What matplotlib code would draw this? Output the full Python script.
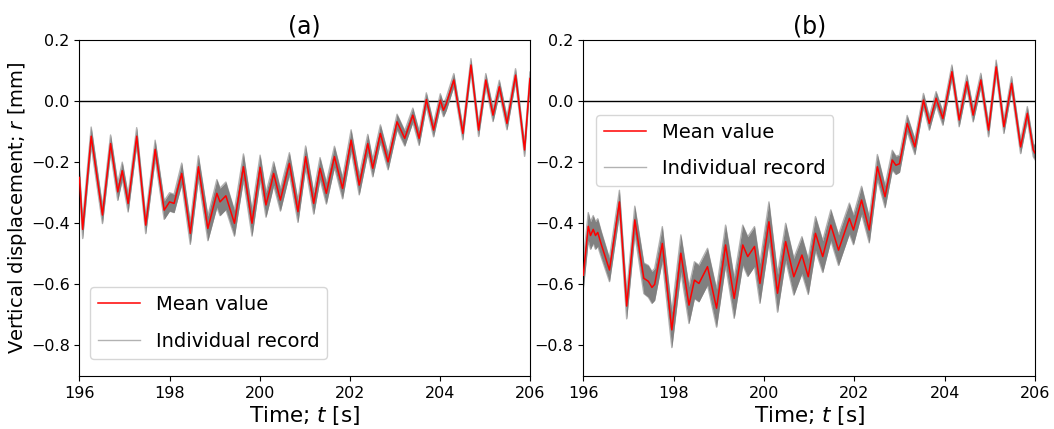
import numpy as np
import matplotlib
matplotlib.use('Agg')
import matplotlib.pyplot as plt

# (a) 平均値のピーク・谷 (time [s], r [mm]) と個別記録のばらつき幅
time_a = [196.00, 196.07, 196.26, 196.51, 196.69, 196.85, 196.95, 197.08, 197.27, 197.47,
          197.68, 197.88, 198.00, 198.10, 198.27, 198.46, 198.64, 198.85, 199.05, 199.12,
          199.25, 199.44, 199.64, 199.83, 200.01, 200.14, 200.26, 200.31, 200.46, 200.66,
          200.85, 201.02, 201.20, 201.34, 201.48, 201.66, 201.84, 202.03, 202.21, 202.40,
          202.51, 202.68, 202.85, 203.05, 203.22, 203.40, 203.54, 203.70, 203.86, 204.01,
          204.08, 204.14, 204.31, 204.51, 204.69, 204.86, 205.02, 205.18, 205.32, 205.49,
          205.68, 205.88, 206.00]
mean_a = [-0.250, -0.420, -0.115, -0.373, -0.139, -0.297, -0.228, -0.335, -0.115, -0.406,
          -0.158, -0.357, -0.330, -0.335, -0.237, -0.433, -0.215, -0.417, -0.302, -0.330,
          -0.310, -0.400, -0.215, -0.400, -0.217, -0.340, -0.270, -0.237, -0.324, -0.204,
          -0.362, -0.182, -0.335, -0.220, -0.302, -0.182, -0.286, -0.128, -0.275, -0.139,
          -0.220, -0.106, -0.199, -0.068, -0.122, -0.046, -0.122, 0.005, -0.095, 0.003,
          -0.030, -0.010, 0.069, -0.106, 0.118, -0.095, 0.069, -0.046, 0.047, -0.073,
          0.085, -0.160, 0.074]
spread_a = [0.028, 0.030, 0.030, 0.028, 0.028, 0.028, 0.028, 0.028, 0.028, 0.028,
            0.030, 0.030, 0.030, 0.030, 0.034, 0.036, 0.036, 0.040, 0.045, 0.045,
            0.045, 0.042, 0.042, 0.042, 0.040, 0.040, 0.038, 0.038, 0.036, 0.035,
            0.035, 0.035, 0.035, 0.035, 0.035, 0.034, 0.034, 0.034, 0.032, 0.030,
            0.028, 0.028, 0.026, 0.025, 0.025, 0.023, 0.023, 0.022, 0.022, 0.021,
            0.021, 0.021, 0.021, 0.021, 0.021, 0.021, 0.021, 0.021, 0.021, 0.021,
            0.021, 0.021, 0.021]

# (b)
time_b = [196.00, 196.11, 196.16, 196.22, 196.27, 196.32, 196.40, 196.58, 196.80, 196.96,
          197.14, 197.34, 197.44, 197.52, 197.58, 197.75, 197.96, 198.16, 198.34, 198.46,
          198.56, 198.75, 198.95, 199.15, 199.34, 199.53, 199.64, 199.79, 199.91, 200.11,
          200.30, 200.48, 200.66, 200.84, 200.98, 201.14, 201.30, 201.48, 201.65, 201.89,
          201.98, 202.16, 202.33, 202.51, 202.68, 202.84, 202.92, 203.00, 203.17, 203.34,
          203.53, 203.66, 203.81, 203.96, 204.16, 204.32, 204.49, 204.63, 204.80, 204.97,
          205.14, 205.31, 205.48, 205.68, 205.83, 205.96, 206.00]
mean_b = [-0.570, -0.410, -0.440, -0.420, -0.440, -0.430, -0.470, -0.553, -0.330, -0.671,
          -0.389, -0.580, -0.590, -0.610, -0.600, -0.466, -0.749, -0.498, -0.668, -0.586,
          -0.597, -0.542, -0.678, -0.471, -0.646, -0.471, -0.509, -0.476, -0.597, -0.395,
          -0.629, -0.460, -0.575, -0.504, -0.575, -0.433, -0.509, -0.406, -0.488, -0.384,
          -0.422, -0.324, -0.422, -0.215, -0.313, -0.193, -0.210, -0.205, -0.073, -0.150,
          0.003, -0.073, 0.009, -0.057, 0.096, -0.062, 0.063, -0.046, 0.069, -0.095,
          0.112, -0.084, 0.058, -0.150, -0.040, -0.160, -0.170]
spread_b = [0.045, 0.045, 0.045, 0.045, 0.045, 0.045, 0.042, 0.038, 0.038, 0.042,
            0.045, 0.050, 0.052, 0.052, 0.052, 0.055, 0.058, 0.060, 0.060, 0.060,
            0.060, 0.060, 0.062, 0.065, 0.065, 0.065, 0.065, 0.065, 0.065, 0.065,
            0.062, 0.060, 0.060, 0.060, 0.058, 0.055, 0.052, 0.050, 0.050, 0.050,
            0.048, 0.045, 0.042, 0.040, 0.036, 0.032, 0.030, 0.028, 0.026, 0.025,
            0.022, 0.022, 0.022, 0.022, 0.022, 0.022, 0.022, 0.022, 0.022, 0.022,
            0.022, 0.022, 0.022, 0.022, 0.022, 0.022, 0.022]

panels = [('(a)', time_a, mean_a, spread_a),
          ('(b)', time_b, mean_b, spread_b)]

fig = plt.figure(figsize=(10.54, 4.29), dpi=100)
ax_a = fig.add_axes([0.0754, 0.1235, 0.4274, 0.7833])
ax_b = fig.add_axes([0.5534, 0.1235, 0.4286, 0.7833])

for ax, (title, t, m, s) in zip([ax_a, ax_b], panels):
    t = np.array(t)
    m = np.array(m)
    s = np.array(s)
    ax.axhline(0.0, color='black', linewidth=1.0, zorder=1)
    ax.fill_between(t, m - s, m + s, color='#808080', linewidth=0, zorder=2)
    ax.plot(t, m + s, color='gray', alpha=0.6, linewidth=1.0, zorder=2, label='Individual record')
    ax.plot(t, m - s, color='gray', alpha=0.6, linewidth=1.0, zorder=2)
    ax.plot(t, m, color='red', linewidth=1.1, zorder=3, label='Mean value')
    ax.set_xlim(196, 206)
    ax.set_ylim(-0.9, 0.2)
    ax.set_xticks([196, 198, 200, 202, 204, 206])
    ax.set_yticks([0.2, 0.0, -0.2, -0.4, -0.6, -0.8])
    ax.tick_params(labelsize=11.5)
    ax.set_xlabel('Time; $t$ [s]', fontsize=15.5, labelpad=2)
    ax.set_title(title, fontsize=17, pad=5)

ax_a.set_ylabel('Vertical displacement; $r$ [mm]', fontsize=14, labelpad=1)

# 凡例の順番: Mean value -> Individual record
for ax, loc, anchor in [(ax_a, 'lower left', (0.023, 0.052)),
                        (ax_b, 'upper left', (0.028, 0.777))]:
    h, l = ax.get_legend_handles_labels()
    ax.legend([h[1], h[0]], [l[1], l[0]], loc=loc, bbox_to_anchor=anchor,
              borderaxespad=0, fontsize=14, handlelength=2.2, labelspacing=0.9)

plt.savefig('out.png', dpi=100)
